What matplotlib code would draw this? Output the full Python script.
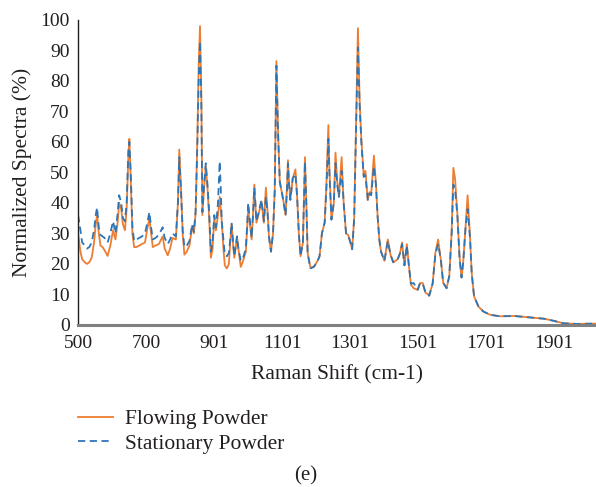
import matplotlib
matplotlib.use("Agg")
import matplotlib.pyplot as plt

plt.rcParams['font.family'] = ['Liberation Serif', 'DejaVu Serif']

# Raman shift (cm-1)
shift = [500, 507, 512, 520, 526, 533, 540, 547, 552, 556, 561, 566, 572, 578, 587, 595,
         603, 610, 616, 621, 627, 632, 638, 643, 648, 651, 655, 660, 665, 672, 680, 688,
         697, 703, 710, 715, 720, 728, 738, 749, 755, 764, 771, 778, 788, 794, 798, 803,
         808, 813, 820, 828, 836, 841, 846, 851, 855, 859, 863, 866, 871, 876, 881, 886,
         891, 896, 901, 906, 912, 917, 920, 923, 928, 932, 938, 944, 948, 952, 956, 960,
         965, 968, 972, 979, 986, 994, 997, 1001, 1006, 1011, 1015, 1019, 1022, 1025, 1032, 1040,
         1047, 1053, 1058, 1062, 1068, 1074, 1079, 1084, 1089, 1094, 1099, 1104, 1111, 1115, 1118, 1121,
         1125, 1132, 1140, 1145, 1150, 1155, 1162, 1168, 1172, 1176, 1184, 1194, 1204, 1211, 1218, 1226,
         1231, 1237, 1240, 1246, 1253, 1258, 1263, 1268, 1276, 1282, 1289, 1295, 1302, 1307, 1313, 1320,
         1324, 1329, 1334, 1341, 1346, 1353, 1358, 1363, 1371, 1377, 1382, 1387, 1392, 1402, 1412, 1420,
         1428, 1441, 1448, 1454, 1461, 1468, 1474, 1480, 1488, 1500, 1507, 1515, 1523, 1534, 1544, 1552,
         1560, 1568, 1575, 1585, 1593, 1600, 1605, 1610, 1617, 1623, 1629, 1634, 1641, 1647, 1654, 1659,
         1666, 1679, 1693, 1713, 1742, 1785, 1823, 1872, 1901, 1930, 1968, 2023]

flowing = [30, 24, 21.5, 20.5, 20, 20.5, 22, 27, 33, 36, 30, 26, 25.5, 24.5, 22.6, 26,
           31, 28, 33, 40, 38, 33, 31, 38, 55, 61, 48, 30, 25.5, 25.5, 26, 26.5,
           27, 31, 35, 30, 25.5, 26, 26.5, 29, 25, 22.8, 25, 28.5, 28, 40, 57.5, 45,
           30, 23, 24, 26, 32.5, 30, 36.5, 60, 85, 98, 75, 36, 45, 52, 45, 35,
           22, 25, 35, 31, 36, 42, 38, 34, 25, 19.5, 18.5, 20, 27, 33, 27, 22,
           26, 29, 25, 19, 21, 24, 30, 38, 33, 28, 36, 46, 40, 33.5, 36.5, 40.5,
           33.5, 45, 37, 29, 24, 30, 44, 86.5, 63, 46.5, 44, 41, 36, 45, 54, 47,
           41, 48, 51, 42, 30, 22.5, 27, 55, 40, 23.5, 18.8, 19, 20.8, 22.5, 30, 33.5,
           46, 65.5, 51, 34.5, 40, 56.5, 47, 42, 55, 40, 30, 29.5, 27, 24.8, 35, 74,
           97.3, 74, 61, 49, 50.5, 41, 43.5, 43, 55.5, 46.5, 35.5, 28, 24, 21, 28, 23,
           20.5, 21.5, 23.5, 27, 19.5, 26.5, 19.5, 13.2, 12, 11.5, 13.7, 13.7, 10.5, 9.8, 13.5, 23.5,
           28, 21.5, 13.8, 12, 16, 30.5, 51.5, 48, 36, 22.5, 15.5, 20.5, 32.5, 42.5, 29, 17,
           9.3, 6, 4.4, 3.3, 2.8, 2.9, 2.5, 2.0, 1.3, 0.5, 0.3, 0.4]

stationary = [36, 31, 27, 26, 25, 25.5, 27, 31, 36, 38.5, 32, 29.5, 29, 28.5, 27, 30,
              34, 30, 36, 42.5, 40, 35, 34, 40, 57, 60, 50, 32, 27.5, 28, 28.5, 29,
              30, 33, 37, 32, 28, 28.5, 29.5, 32, 28.5, 26.5, 28, 30, 29, 40, 55, 44,
              31, 25.5, 26, 27.5, 33, 30.5, 37, 58, 80, 93, 72, 37, 46, 53, 46, 37,
              24, 27, 36, 32, 40, 53.6, 45, 34, 28, 23, 22.5, 23.5, 28, 33.5, 27.5, 22.5,
              26.5, 29, 25, 21, 22, 25, 31, 40, 34, 28.5, 36, 45, 40, 34, 37, 41,
              34, 42, 36.5, 29, 24, 30, 44, 85, 62, 47, 44, 41, 36, 44, 53, 46,
              41, 48, 49.5, 42, 30, 22.5, 27, 53.5, 40, 23.5, 18.5, 19, 20.5, 22.5, 30, 33.5,
              44, 61, 50, 34.5, 40, 53, 46, 42, 50.5, 40, 30, 29.5, 27, 24.8, 35, 72,
              91, 72, 60, 48.5, 49, 41, 43, 42.5, 52, 46, 35.5, 28, 24, 21, 27.5, 23,
              20.5, 21.5, 23.5, 26.5, 19.5, 26, 19.5, 13.5, 13.7, 11.5, 13.7, 13.5, 10.5, 9.5, 13.5, 23,
              26.5, 21.5, 13.8, 12, 16, 30, 46, 44.5, 35.5, 22.5, 15.5, 20.5, 32, 38, 28.5, 17,
              9.3, 6, 4.4, 3.3, 2.8, 2.9, 2.5, 2.0, 1.3, 0.5, 0.3, 0.4]

xticks = [500, 700, 901, 1101, 1301, 1501, 1701, 1901]

txt = '#231f20'
fig = plt.figure(figsize=(5.96, 4.87), dpi=100)
ax = fig.add_axes([0.131, 0.333, 0.869, 0.626])

ax.plot(shift, flowing, color='#ED7D31', lw=1.3, label='Flowing Powder')
ax.plot(shift, stationary, color='#2E75B6', lw=1.3, ls=(0, (4, 2.5)), label='Stationary Powder')

ax.set_xlim(500, 2025)
ax.set_ylim(0, 100)
ax.set_xticks(xticks)
ax.set_yticks(range(0, 101, 10))
ax.tick_params(length=0, labelsize=14, colors=txt)
ax.tick_params(axis='x', pad=7)
ax.tick_params(axis='y', pad=6)

for s in ['top', 'right']:
    ax.spines[s].set_visible(False)
ax.spines['left'].set_color(txt)
ax.spines['left'].set_linewidth(1.0)
ax.spines['bottom'].set_color('#808080')
ax.spines['bottom'].set_linewidth(2.2)

ax.set_xlabel('Raman Shift (cm-1)', fontsize=15.5, color=txt, labelpad=10)
ax.set_ylabel('Normalized Spectra (%)', fontsize=15.5, color=txt, labelpad=6)

leg = ax.legend(loc='upper left', bbox_to_anchor=(0.131, 0.16), bbox_transform=fig.transFigure,
                frameon=False, fontsize=15.5, handlelength=1.6, handletextpad=0.6,
                labelspacing=0.2, borderpad=0, borderaxespad=0)
for t in leg.get_texts():
    t.set_color(txt)

fig.text(0.513, 0.022, '(e)', ha='center', va='center', fontsize=15, color=txt)

fig.savefig('out.png', dpi=100)
